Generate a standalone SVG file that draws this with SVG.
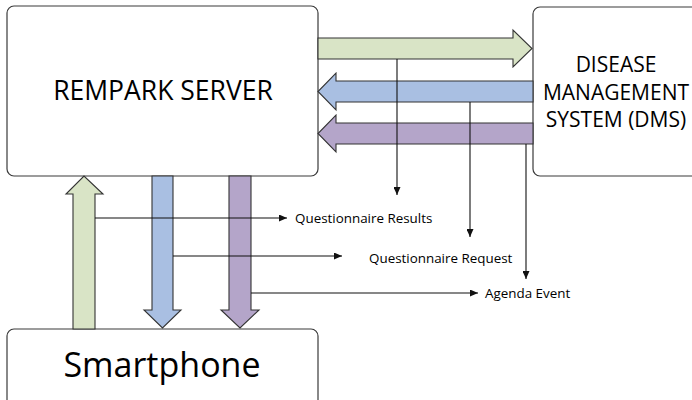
<svg xmlns="http://www.w3.org/2000/svg" width="692" height="400" viewBox="0 0 692 400">
<defs>
<style>
.box{fill:#fff;stroke:#3a3a3a;stroke-width:1.2}
.big{font-family:"Open Sans","Liberation Sans",sans-serif;fill:#000;text-anchor:middle}
.lbl{font-family:"Open Sans","Liberation Sans",sans-serif;font-size:13.4px;fill:#000}
.g{fill:#d9e4c6;stroke:#333;stroke-width:1.1}
.b{fill:#a9bfe2;stroke:#333;stroke-width:1.1}
.p{fill:#b4a5c9;stroke:#333;stroke-width:1.1}
.ln{fill:none;stroke:#111;stroke-width:1.1;marker-end:url(#ah)}
</style>
<marker id="ah" markerUnits="userSpaceOnUse" markerWidth="8" markerHeight="7" refX="8" refY="3.5" orient="auto">
<path d="M0,0 L8,3.5 L0,7 z" fill="#111"/>
</marker>
</defs>
<rect width="692" height="400" fill="#fff"/>
<g id="server">
<rect class="box" x="7" y="6" width="311" height="170" rx="7"/>
<text class="big" x="163" y="100" font-size="26.5">REMPARK SERVER</text>
</g>
<g id="dms">
<rect class="box" x="533" y="7" width="170" height="169" rx="7"/>
<text class="big" x="616" y="72" font-size="21">DISEASE</text>
<text class="big" x="616" y="100" font-size="21">MANAGEMENT</text>
<text class="big" x="616" y="127" font-size="21">SYSTEM (DMS)</text>
</g>
<g id="smartphone">
<rect class="box" x="7" y="329" width="311" height="90" rx="7"/>
<text class="big" x="162" y="377" font-size="34">Smartphone</text>
</g>
<g id="connectors">
<polygon class="g" points="318,38 513,38 513,30 532,48.5 513,67 513,59 318,59"/>
<polygon class="b" points="533,81 336,81 336,73 318,91.5 336,110 336,102 533,102"/>
<polygon class="p" points="533,123 336,123 336,115 318,133.5 336,152 336,144 533,144"/>
<polygon class="g" points="73,329 73,194 66,194 84,176 103,194 95,194 95,329"/>
<polygon class="b" points="152,176 173,176 173,310 181,310 162.5,328 144,310 152,310"/>
<polygon class="p" points="229,176 251,176 251,310 259,310 240,328 221,310 229,310"/>
<line class="ln" x1="397" y1="59" x2="397" y2="195"/>
<line class="ln" x1="470" y1="102" x2="470" y2="237"/>
<line class="ln" x1="526" y1="144" x2="526" y2="279"/>
<line class="ln" x1="95" y1="218" x2="287" y2="218"/>
<line class="ln" x1="173" y1="256" x2="342" y2="256"/>
<line class="ln" x1="251" y1="293" x2="478" y2="293"/>
</g>
<text class="lbl" x="295" y="223">Questionnaire Results</text>
<text class="lbl" x="369" y="263">Questionnaire Request</text>
<text class="lbl" x="485" y="298">Agenda Event</text>
</svg>
